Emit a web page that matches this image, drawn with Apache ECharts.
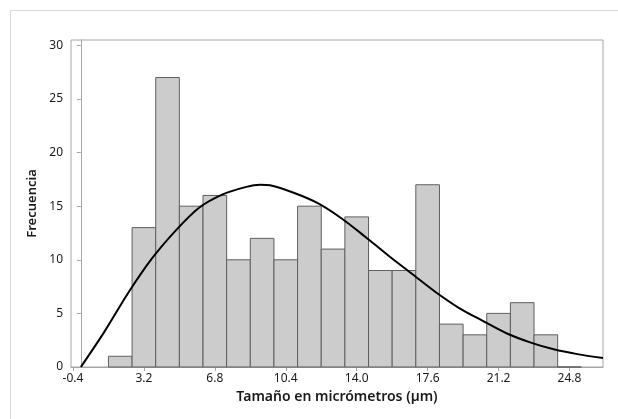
<!DOCTYPE html>
<html>
<head>
<meta charset="utf-8">
<title>Histograma</title>
<script src="https://cdn.jsdelivr.net/npm/echarts@6/dist/echarts.min.js"></script>
<style>
    html,
    body {
        margin: 0;
        padding: 0;
        background: #fff;
    }

    #chart {
        width: 618px;
        height: 419px;
    }
</style>
</head>
<body>
<div id="chart"></div>
<script>
// histogram bins (lower edge, width 1.2) and counts
const binStart = 1.4;
const binWidth = 1.2;
const counts = [1, 13, 27, 15, 16, 10, 12, 10, 15, 11, 14, 9, 9, 17, 4, 3, 5, 6, 3, 0];

// fitted curve
const curveX = [0, 1.2, 2.4, 3.6, 4.8, 6.0, 7.2, 8.4, 9.1, 9.6, 10.8, 12.0, 13.2, 14.4, 15.6, 16.8, 18.0, 19.2, 20.4, 21.6, 22.8, 24.0, 25.2, 26.5];
const curveY = [0, 3.3, 6.9, 10.1, 12.7, 14.85, 16.1, 16.8, 17.0, 16.95, 16.25, 15.3, 13.9, 12.2, 10.4, 8.7, 7.0, 5.5, 4.3, 3.15, 2.3, 1.65, 1.2, 0.84];

// tick labels
const xTicks = [-0.4, 3.2, 6.8, 10.4, 14.0, 17.6, 21.2, 24.8];
const yTicks = [0, 5, 10, 15, 20, 25, 30];

const barData = counts.map((c, i) => {
    const lo = binStart + i * binWidth;
    return [lo, lo + binWidth, c];
});
const curveData = curveX.map((x, i) => [x, curveY[i]]);

const chart = echarts.init(document.getElementById("chart"), null, { renderer: "canvas" });

const font = "'Noto Sans', 'Open Sans', sans-serif";

const options = {
    animation: false,
    backgroundColor: "#fff",
    graphic: [
        {
            type: "rect",
            shape: { x: 10.5, y: 10.5, width: 640, height: 440 },
            style: { fill: "none", stroke: "#d9d9d9", lineWidth: 1 },
            silent: true,
        },
    ],
    grid: {
        left: 71,
        right: 15,
        top: 40,
        bottom: 52,
        show: true,
        borderColor: "#a6a6a6",
        borderWidth: 1,
    },
    xAxis: {
        type: "value",
        min: -0.5,
        max: 26.5,
        name: "Tamaño en micrómetros (µm)",
        nameLocation: "middle",
        nameGap: 22,
        nameTextStyle: {
            fontFamily: font,
            fontSize: 14,
            fontWeight: 600,
            color: "#1a1a1a",
        },
        axisLine: { show: true, lineStyle: { color: "#a6a6a6" } },
        axisTick: {
            show: true,
            length: 4,
            customValues: xTicks,
            lineStyle: { color: "#a6a6a6" },
        },
        axisLabel: {
            customValues: xTicks,
            margin: 6,
            fontFamily: font,
            fontSize: 12,
            color: "#1a1a1a",
            formatter: (v) => v.toFixed(1),
        },
        splitLine: { show: false },
    },
    yAxis: {
        type: "value",
        min: 0,
        max: 30.5,
        name: "Frecuencia",
        nameLocation: "middle",
        nameGap: 23,
        nameTextStyle: {
            fontFamily: font,
            fontSize: 13,
            fontWeight: 600,
            color: "#1a1a1a",
        },
        axisLine: { show: true, lineStyle: { color: "#a6a6a6" } },
        axisTick: {
            show: true,
            length: 4,
            customValues: yTicks,
            lineStyle: { color: "#a6a6a6" },
        },
        axisLabel: {
            customValues: yTicks,
            margin: 8,
            fontFamily: font,
            fontSize: 12,
            color: "#1a1a1a",
        },
        splitLine: { show: false },
    },
    series: [
        {
            name: "Frecuencia",
            type: "custom",
            renderItem: (params, api) => {
                const lo = api.value(0);
                const hi = api.value(1);
                const c = api.value(2);
                const p1 = api.coord([lo, c]);
                const p2 = api.coord([hi, 0]);
                return {
                    type: "rect",
                    shape: {
                        x: p1[0],
                        y: p1[1],
                        width: p2[0] - p1[0],
                        height: p2[1] - p1[1],
                    },
                    style: {
                        fill: "#cccccc",
                        stroke: "#5f5f5f",
                        lineWidth: 1,
                    },
                };
            },
            encode: { x: [0, 1], y: 2 },
            data: barData,
            z: 2,
        },
        {
            name: "Ajuste",
            type: "line",
            data: curveData,
            smooth: 0.3,
            showSymbol: false,
            symbol: "none",
            lineStyle: { color: "#000", width: 2 },
            z: 3,
        },
    ],
};

chart.setOption(options);
</script>
</body>
</html>
